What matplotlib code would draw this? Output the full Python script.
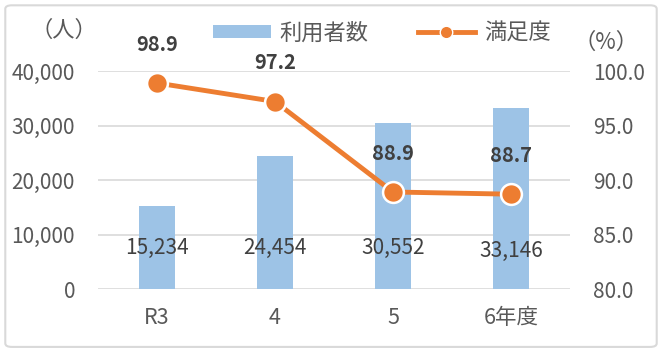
import matplotlib.pyplot as plt
from matplotlib.patches import FancyBboxPatch
from matplotlib.lines import Line2D
from matplotlib.patches import Patch

plt.rcParams['font.family'] = ['Noto Sans CJK JP', 'DejaVu Sans']

# data
categories = ["R3", "4", "5", "6年度"]
users = [15234, 24454, 30552, 33146]
satisfaction = [98.9, 97.2, 88.9, 88.7]

bar_color = "#9DC3E6"
line_color = "#ED7D31"
tick_color = "#595959"
label_color = "#404040"

fig = plt.figure(figsize=(6.62, 3.54), dpi=100)
border = FancyBboxPatch((0.008, 0.02), 0.984, 0.965, boxstyle="round,pad=0,rounding_size=0.01",
                        transform=fig.transFigure, facecolor="white", edgecolor="#D9D9D9", lw=1.5,
                        zorder=-5)
fig.patches.append(border)

ax = fig.add_axes([0.148, 0.1836, 0.713, 0.6158])
ax.set_facecolor("none")
x = list(range(len(categories)))
ax.bar(x, users, width=0.31, color=bar_color, zorder=2)
ax.set_xlim(-0.5, len(categories) - 0.5)
ax.set_ylim(0, 40000)
ax.set_yticks(range(0, 40001, 10000))
ax.set_yticklabels([f"{v:,}" for v in range(0, 40001, 10000)])
ax.set_xticks(x)
ax.set_xticklabels(categories)
ax.yaxis.grid(True, color="#D9D9D9", lw=1.2, zorder=0)
ax.set_axisbelow(True)
for s in ax.spines.values():
    s.set_visible(False)
ax.tick_params(axis="y", length=0, pad=16.5, labelsize=15, labelcolor=tick_color)
ax.tick_params(axis="x", length=0, pad=13, labelsize=15.5, labelcolor=tick_color)

for i, v in enumerate(users):
    ax.text(i, 7500 if i < 3 else 7000, f"{v:,}", ha="center", va="center",
            fontsize=15, color=label_color, zorder=5)

ax2 = ax.twinx()
ax2.plot(x, satisfaction, color=line_color, lw=3.5, marker="o", markersize=15,
         markerfacecolor=line_color, markeredgecolor="white", markeredgewidth=1.8, zorder=4)
ax2.set_ylim(80, 100)
ax2.set_yticks([80, 85, 90, 95, 100])
ax2.set_yticklabels([f"{v:.1f}" for v in [80, 85, 90, 95, 100]])
for s in ax2.spines.values():
    s.set_visible(False)
ax2.tick_params(axis="y", length=0, pad=16.5, labelsize=15, labelcolor=tick_color)
for i, v in enumerate(satisfaction):
    ax2.annotate(f"{v:.1f}", (i, v), xytext=(0, 28), textcoords="offset points",
                 ha="center", va="center", fontsize=14.5, fontweight="bold", color=label_color)

fig.text(0.097, 0.915, "（人）", ha="center", va="center", fontsize=16, color=tick_color)
fig.text(0.915, 0.88, "（%）", ha="center", va="center", fontsize=16, color=tick_color)

handles = [Patch(facecolor=bar_color, edgecolor="none"),
           Line2D([0], [0], color=line_color, lw=3.5, marker="o", markersize=9,
                  markerfacecolor=line_color, markeredgecolor="white")]
fig.legend(handles, ["利用者数", "満足度"], loc="center", bbox_to_anchor=(0.577, 0.907), ncol=2,
           frameon=False, fontsize=16, labelcolor=tick_color, handlelength=2.6,
           handleheight=0.5, columnspacing=2.2, handletextpad=0.4)

fig.savefig("out.png", dpi=100)
